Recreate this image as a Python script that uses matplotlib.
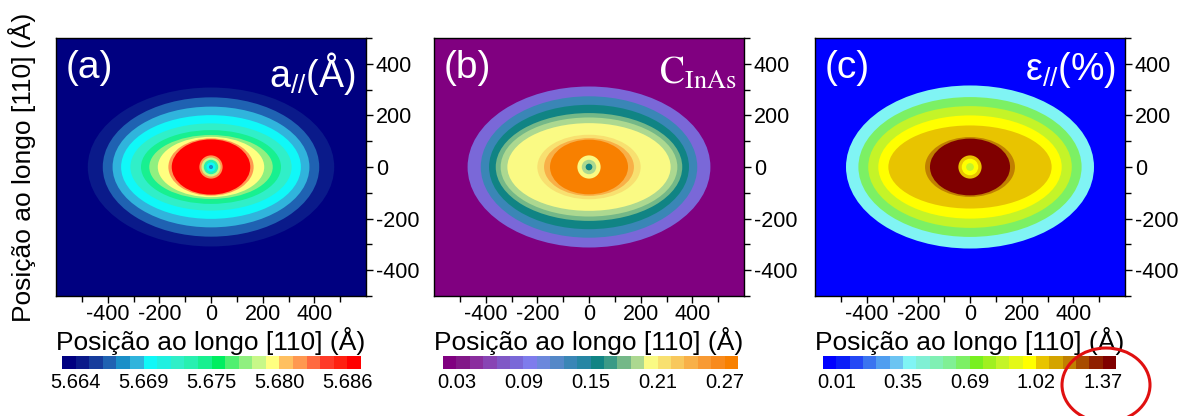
import numpy as np
import matplotlib
matplotlib.use("Agg")
import matplotlib.pyplot as plt
from matplotlib.colors import ListedColormap, BoundaryNorm
from matplotlib.patches import Ellipse
from matplotlib.ticker import FixedLocator
import matplotlib.cm as cm

plt.rcParams['font.family'] = ['Liberation Sans', 'DejaVu Sans']
plt.rcParams['mathtext.fontset'] = 'custom'
plt.rcParams['mathtext.rm'] = 'Liberation Sans'
plt.rcParams['mathtext.it'] = 'Liberation Sans:italic'
plt.rcParams['axes.unicode_minus'] = False

# escalas das barras de cor (min, max, rotulos)
a_lo, a_hi = 5.664, 5.686
a_ticklabels = ['5.664', '5.669', '5.675', '5.680', '5.686']
b_lo, b_hi = 0.03, 0.27
b_ticklabels = ['0.03', '0.09', '0.15', '0.21', '0.27']
c_lo, c_hi = 0.01, 1.37
c_ticklabels = ['0.01', '0.35', '0.69', '1.02', '1.37']

# (a) parametro de rede a// : fundo + aneis elipticos (de fora para dentro)
a_bg = 5.6634
a_vals = [5.6646, 5.6668, 5.6690, 5.6701, 5.6723, 5.6745, 5.6778, 5.6800,
          5.6822, 5.6866, 5.6822, 5.6789, 5.6734, 5.6701, 5.6679]
a_sx = [477, 419, 381, 348, 312, 271, 239, 206, 165, 152, 45, 37, 28, 18, 8]
a_sy = [308, 270, 234, 201, 169, 143, 124, 117, 111, 107, 45, 37, 28, 18, 8]

# (b) concentracao de InAs
b_bg = 0.024
b_vals = [0.084, 0.132, 0.156, 0.180, 0.192, 0.204, 0.216, 0.240, 0.276,
          0.204, 0.192, 0.156]
b_sx = [470, 419, 387, 361, 342, 316, 200, 174, 151, 45, 28, 13]
b_sy = [312, 274, 241, 209, 192, 170, 125, 112, 106, 45, 28, 13]

# (c) deformacao e// (%)
c_bg = -0.024
c_vals = [0.384, 0.656, 0.860, 0.996, 1.064, 1.200, 1.404, 1.064, 0.996, 0.860]
c_sx = [480, 432, 394, 355, 316, 174, 155, 45, 32, 15]
c_sy = [316, 271, 236, 200, 161, 116, 110, 45, 32, 15]

# paletas (22 blocos cada)
a_colors = ['#000080', '#0a1a8a', '#163c9c', '#1f62b2', '#1a8fc8', '#30b4dc',
            '#10f8f8', '#20f0e0', '#30efc8', '#28f0b0', '#18f090', '#00ee60',
            '#50f070', '#90f080', '#c8f888', '#ffff80', '#ffc060', '#ff9850',
            '#ff6a40', '#ff3a28', '#ff2010', '#ff0000']
b_colors = ['#800080', '#821888', '#8a2e9e', '#8844b4', '#8058c6', '#7a68d8',
            '#7e7cec', '#6c88dc', '#5488c8', '#3a86b6', '#2686a4', '#108484',
            '#3a9a86', '#74b888', '#acd890', '#fafa84', '#f8e070', '#f8c85c',
            '#f8b048', '#f89a34', '#f88a1c', '#f88000']
c_colors = ['#0000ff', '#0a1ef8', '#2448f5', '#3a74f0', '#509ef0', '#6cc4f2',
            '#80f4f4', '#80f0d4', '#80f0b4', '#80f094', '#7cf064', '#78f020',
            '#a0f020', '#c4f428', '#e4f818', '#ffff00', '#e8c400', '#d4a400',
            '#c08000', '#a84c00', '#902000', '#800000']

W, H = 1188, 416
fig = plt.figure(figsize=(W / 100, H / 100), dpi=100)


def escala(lo, hi, cores):
    passo = (hi - lo) / 20
    niveis = lo + passo * np.arange(21)
    limites = np.concatenate([[lo - passo], niveis, [hi + passo]])
    cmap = ListedColormap(cores)
    norm = BoundaryNorm(limites, cmap.N)
    return cmap, norm, niveis


def painel(x0, bg, vals, sx, sy, lo, hi, cores, ticklabels, cbx, cbw):
    cmap, norm, niveis = escala(lo, hi, cores)
    ax = fig.add_axes([x0 / W, 1 - 296 / H, 310 / W, 258 / H])
    ax.set_facecolor(cmap(norm(bg)))
    for i, (v, a, b) in enumerate(zip(vals, sx, sy)):
        ax.add_patch(Ellipse((0, 0), 2 * a, 2 * b, facecolor=cmap(norm(v)),
                             edgecolor='none', zorder=2 + i))
    ax.set_xlim(-600, 600)
    ax.set_ylim(-500, 500)
    ax.yaxis.tick_right()
    ax.xaxis.set_major_locator(FixedLocator([-400, -200, 0, 200, 400]))
    ax.yaxis.set_major_locator(FixedLocator([-400, -200, 0, 200, 400]))
    ax.xaxis.set_minor_locator(FixedLocator([-500, -300, -100, 100, 300, 500]))
    ax.yaxis.set_minor_locator(FixedLocator([-500, -300, -100, 100, 300, 500]))
    ax.tick_params(which='both', direction='out', labelsize=15.5, width=1)
    ax.tick_params(which='major', length=5, pad=2)
    ax.tick_params(axis='x', which='major', pad=1)
    ax.tick_params(which='minor', length=4)
    ax.set_xlabel('Posição ao longo [110] (Å)', fontsize=19, labelpad=1)
    for s in ax.spines.values():
        s.set_linewidth(1)
        s.set_zorder(50)

    cax = fig.add_axes([cbx / W, 1 - 369 / H, cbw / W, 13 / H])
    cb = fig.colorbar(cm.ScalarMappable(norm=norm, cmap=cmap), cax=cax,
                      orientation='horizontal', spacing='uniform')
    cb.outline.set_visible(False)
    cb.set_ticks(niveis[::5])
    cb.set_ticklabels(ticklabels)
    cax.tick_params(length=0, labelsize=14.5, pad=3)
    cax.minorticks_off()
    return ax


ax_a = painel(56, a_bg, a_vals, a_sx, a_sy, a_lo, a_hi, a_colors,
              a_ticklabels, 62, 299)
ax_b = painel(434, b_bg, b_vals, b_sx, b_sy, b_lo, b_hi, b_colors,
              b_ticklabels, 443, 295)
ax_c = painel(815, c_bg, c_vals, c_sx, c_sy, c_lo, c_hi, c_colors,
              c_ticklabels, 823, 293)

# rotulos dos paineis
for ax, letra in [(ax_a, '(a)'), (ax_b, '(b)'), (ax_c, '(c)')]:
    ax.text(0.03, 0.955, letra, transform=ax.transAxes, color='white',
            fontsize=28, ha='left', va='top', zorder=60)

ax_a.text(0.968, 0.955, r'a$_{//}$(Å)', transform=ax_a.transAxes,
          color='white', fontsize=27, ha='right', va='top', zorder=60)
ax_b.text(0.975, 0.93, r'$\mathrm{C}_{\mathrm{InAs}}$', transform=ax_b.transAxes,
          color='white', fontsize=27, ha='right', va='top', zorder=60,
          math_fontfamily='stix')
ax_c.text(0.97, 0.955, r'ε$_{//}$(%)', transform=ax_c.transAxes,
          color='white', fontsize=27, ha='right', va='top', zorder=60)

fig.text(22 / W, 1 - 167 / H, 'Posição ao longo [110] (Å)', rotation=90,
         fontsize=19, ha='center', va='center')

# destaque em vermelho no ultimo valor da escala (c)
fig.patches.append(Ellipse((1106 / W, 1 - 385 / H), 88 / W, 74 / H,
                           transform=fig.transFigure, fill=False,
                           edgecolor='#e01010', linewidth=2.2))

fig.savefig('out.png', dpi=100)
